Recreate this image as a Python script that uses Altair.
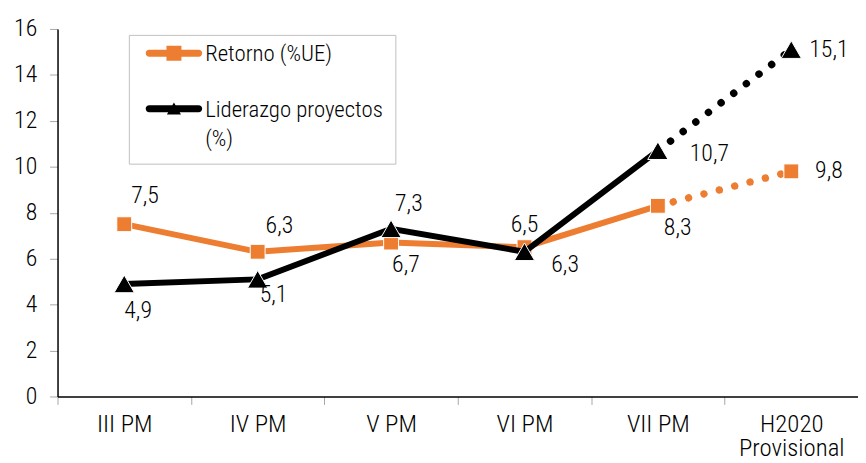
import altair as alt
import pandas as pd

categories = ["III PM", "IV PM", "V PM", "VI PM", "VII PM", "H2020 Provisional"]
retorno = [7.5, 6.3, 6.7, 6.5, 8.3, 9.8]
liderazgo = [4.9, 5.1, 7.3, 6.3, 10.7, 15.1]
series_names = ["Retorno (%UE)", "Liderazgo proyectos (%)"]

# label placement (pixel offsets from each point)
ret_label_offsets = [(21, -28), (22, -26), (15, 23), (0, -22), (20, 22), (38, 0)]
lid_label_offsets = [(14, 27), (16, 16), (18, -25), (41, 13), (52, 3), (38, 0)]

ORANGE = "#ED7D31"
BLACK = "#000000"
FONT = "Roboto Condensed, Liberation Sans Narrow, Arial Narrow, sans-serif"
FW = 300
FS = 24

rows = []
for s, vals in zip(series_names, [retorno, liderazgo]):
    for i, (c, v) in enumerate(zip(categories, vals)):
        rows.append({"cat": c, "v": v, "series": s, "idx": i,
                     "label": f"{v:.1f}".replace(".", ",")})
df = pd.DataFrame(rows)

x_enc = alt.X(
    "cat:N",
    sort=categories,
    scale=alt.Scale(type="band", domain=categories, paddingInner=0, paddingOuter=0),
    axis=alt.Axis(
        title=None, tickBand="extent", tickSize=8, tickColor="#A6A6A6", tickWidth=1,
        domainColor=BLACK, domainWidth=1.5, labelFont=FONT, labelFontWeight=FW,
        labelFontSize=25, labelColor=BLACK, labelPadding=7, labelAngle=0,
        labelLineHeight=25,
        labelExpr="datum.label == 'H2020 Provisional' ? ['H2020', 'Provisional'] : datum.label",
    ),
)
y_enc = alt.Y(
    "v:Q",
    scale=alt.Scale(domain=[0, 16], nice=False, zero=True),
    axis=alt.Axis(
        title=None, values=list(range(0, 17, 2)), tickSize=8, tickColor="#A6A6A6",
        tickWidth=1, domainColor=BLACK, domainWidth=1.5, labelFont=FONT,
        labelFontWeight=FW, labelFontSize=FS, labelColor=BLACK, labelPadding=13,
        grid=False,
    ),
)

base = alt.Chart(df).encode(x=x_enc, y=y_enc)


def series_layers(name, color, shape, size):
    d = base.transform_filter(alt.datum.series == name)
    solid = d.transform_filter(alt.datum.idx <= 4).mark_line(
        color=color, strokeWidth=6, strokeJoin="miter")
    dotted = d.transform_filter(alt.datum.idx >= 4).mark_line(
        color=color, strokeWidth=7.5, strokeCap="round", strokeDash=[0.01, 16])
    pts = d.mark_point(shape=shape, filled=True, fill=color, stroke="white",
                       strokeWidth=1, size=size, opacity=1)
    return [solid, dotted, pts]


text_layers = []
for name, offs in zip(series_names, [ret_label_offsets, lid_label_offsets]):
    for i, (dx, dy) in enumerate(offs):
        text_layers.append(
            base.transform_filter((alt.datum.series == name) & (alt.datum.idx == i))
            .mark_text(font=FONT, fontWeight=FW, fontSize=FS, color=BLACK, dx=dx, dy=dy,
                       align="center", baseline="middle")
            .encode(text="label:N")
        )

# legend symbols: line with marker (path units scaled by sqrt(size)/2)
line_part = ("M-1.755,-0.805 L1.755,-0.805 A0.245,0.245 0 0 1 1.755,-0.315 "
             "L-1.755,-0.315 A0.245,0.245 0 0 1 -1.755,-0.805 Z ")
sym_ret = line_part + "M-0.53,-1.09 L0.53,-1.09 L0.53,-0.03 L-0.53,-0.03 Z"
sym_lid = line_part + "M0,-1.0 L0.5,-0.15 L-0.5,-0.15 Z"

legend_layer = base.transform_filter(alt.datum.v < 0).mark_point(
    filled=True, opacity=1, size=812
).encode(
    color=alt.Color("series:N", scale=alt.Scale(domain=series_names, range=[ORANGE, BLACK]),
                    legend=alt.Legend(
                        title=None, orient="none", legendX=72, legendY=6,
                        strokeColor="#BFBFBF", padding=12, symbolSize=812,
                        symbolOffset=19, symbolStrokeWidth=0, labelOffset=17,
                        labelFont=FONT, labelFontWeight=FW, labelFontSize=23,
                        labelColor=BLACK, labelLimit=400, labelBaseline="alphabetic",
                        rowPadding=32,
                        labelExpr="datum.label == 'Liderazgo proyectos (%)' ? ['Liderazgo proyectos', '(%)'] : datum.label",
                    )),
    shape=alt.Shape("series:N", scale=alt.Scale(domain=series_names, range=[sym_ret, sym_lid]),
                    legend=None),
)

layers = (series_layers(series_names[0], ORANGE, "square", 225)
          + series_layers(series_names[1], BLACK, "triangle-up", 420)
          + text_layers + [legend_layer])

chart = alt.layer(*layers).properties(
    width=808, height=371,
    autosize=alt.AutoSizeParams(type="none"),
    padding={"left": 50, "top": 19, "right": 0, "bottom": 65},
).configure(
    background="white", style={"guide-label": {"lineHeight": 30}}
).configure_view(stroke=None)

chart.save("out.html", embed_options={"renderer": "svg", "actions": False})
